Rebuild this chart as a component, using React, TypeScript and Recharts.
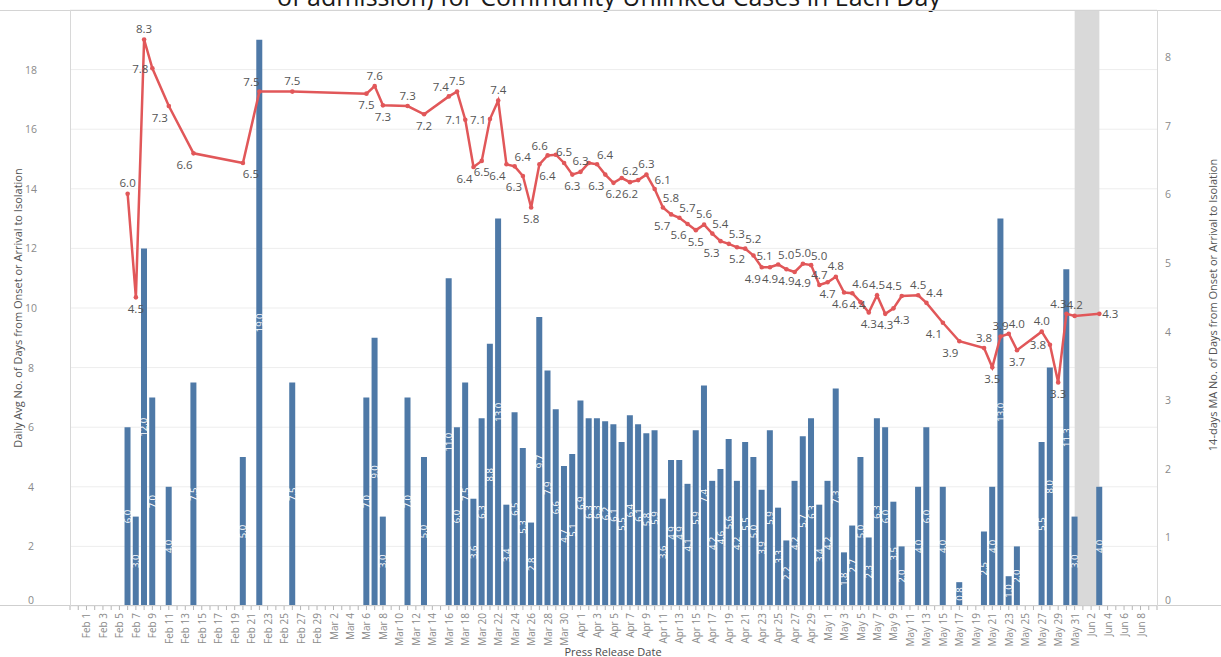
import React from "react";
import { Bar, CartesianGrid, ComposedChart, LabelList, Line, ReferenceArea, XAxis, YAxis } from "recharts";

// daily average (bars, left axis)
const barDates = [
  "Feb 6", "Feb 7", "Feb 8", "Feb 9", "Feb 11", "Feb 14", "Feb 20", "Feb 22", "Feb 26",
  "Mar 6", "Mar 7", "Mar 8", "Mar 11", "Mar 13", "Mar 16", "Mar 17", "Mar 18", "Mar 19", "Mar 20",
  "Mar 21", "Mar 22", "Mar 23", "Mar 24", "Mar 25", "Mar 26", "Mar 27", "Mar 28", "Mar 29", "Mar 30", "Mar 31",
  "Apr 1", "Apr 2", "Apr 3", "Apr 4", "Apr 5", "Apr 6", "Apr 7", "Apr 8", "Apr 9", "Apr 10",
  "Apr 11", "Apr 12", "Apr 13", "Apr 14", "Apr 15", "Apr 16", "Apr 17", "Apr 18", "Apr 19", "Apr 20",
  "Apr 21", "Apr 22", "Apr 23", "Apr 24", "Apr 25", "Apr 26", "Apr 27", "Apr 28", "Apr 29", "Apr 30",
  "May 1", "May 2", "May 3", "May 4", "May 5", "May 6", "May 7", "May 8", "May 9", "May 10",
  "May 12", "May 13", "May 15", "May 17", "May 20", "May 21", "May 22", "May 23", "May 24",
  "May 27", "May 28", "May 30", "May 31", "Jun 3",
];
const barValues = [
  6.0, 3.0, 12.0, 7.0, 4.0, 7.5, 5.0, 19.0, 7.5,
  7.0, 9.0, 3.0, 7.0, 5.0, 11.0, 6.0, 7.5, 3.6, 6.3,
  8.8, 13.0, 3.4, 6.5, 5.3, 2.8, 9.7, 7.9, 6.6, 4.7, 5.1,
  6.9, 6.3, 6.3, 6.2, 6.1, 5.5, 6.4, 6.1, 5.8, 5.9,
  3.6, 4.9, 4.9, 4.1, 5.9, 7.4, 4.2, 4.6, 5.6, 4.2,
  5.5, 5.0, 3.9, 5.9, 3.3, 2.2, 4.2, 5.7, 6.3, 3.4,
  4.2, 7.3, 1.8, 2.7, 5.0, 2.3, 6.3, 6.0, 3.5, 2.0,
  4.0, 6.0, 4.0, 0.8, 2.5, 4.0, 13.0, 1.0, 2.0,
  5.5, 8.0, 11.3, 3.0, 4.0,
];

// 14-day moving average (line, right axis)
const maDates = [
  "Feb 6", "Feb 7", "Feb 8", "Feb 9", "Feb 11", "Feb 14", "Feb 20", "Feb 22", "Feb 26",
  "Mar 6", "Mar 7", "Mar 8", "Mar 11", "Mar 13", "Mar 16", "Mar 17", "Mar 18", "Mar 19", "Mar 20",
  "Mar 21", "Mar 22", "Mar 23", "Mar 24", "Mar 25", "Mar 26", "Mar 27", "Mar 28", "Mar 29", "Mar 30", "Mar 31",
  "Apr 1", "Apr 2", "Apr 3", "Apr 4", "Apr 5", "Apr 6", "Apr 7", "Apr 8", "Apr 9", "Apr 10",
  "Apr 11", "Apr 12", "Apr 13", "Apr 14", "Apr 15", "Apr 16", "Apr 17", "Apr 18", "Apr 19", "Apr 20",
  "Apr 21", "Apr 22", "Apr 23", "Apr 24", "Apr 25", "Apr 26", "Apr 27", "Apr 28", "Apr 29", "Apr 30",
  "May 1", "May 2", "May 3", "May 4", "May 5", "May 6", "May 7", "May 8", "May 9", "May 10",
  "May 12", "May 13", "May 15", "May 17", "May 20", "May 21", "May 22", "May 23", "May 24",
  "May 27", "May 28", "May 29", "May 30", "May 31", "Jun 3",
];
const maValues = [
  6.01, 4.5, 8.26, 7.84, 7.29, 6.6, 6.46, 7.5, 7.5,
  7.47, 7.58, 7.3, 7.29, 7.17, 7.43, 7.5, 7.09, 6.4, 6.49,
  7.1, 7.37, 6.44, 6.41, 6.27, 5.81, 6.44, 6.57, 6.58, 6.46, 6.29,
  6.33, 6.46, 6.44, 6.29, 6.17, 6.24, 6.18, 6.21, 6.29, 6.08,
  5.81, 5.71, 5.66, 5.57, 5.48, 5.56, 5.43, 5.32, 5.28, 5.23,
  5.21, 5.11, 4.94, 4.94, 4.98, 4.91, 4.87, 4.99, 4.97, 4.68,
  4.72, 4.8, 4.57, 4.56, 4.43, 4.28, 4.53, 4.26, 4.34, 4.52,
  4.53, 4.42, 4.13, 3.86, 3.76, 3.48, 3.93, 3.97, 3.73,
  4.0, 3.81, 3.26, 4.26, 4.23, 4.26,
];
// where each MA label sits around its point ("" = label hidden)
const maLabelSide = [
  "T", "B", "T", "L", "BL", "BL", "BR", "TL", "T",
  "B", "T", "B", "T", "B", "TL", "T", "L", "BL", "B",
  "L", "T", "BL", "TR", "BL", "B", "BR", "TL", "", "T", "B",
  "T", "", "TR", "BL", "B", "", "B", "TL", "T", "TR",
  "TR", "BL", "TR", "BL", "B", "T", "TR", "BL", "TR", "B",
  "TR", "R", "BL", "B", "TR", "B", "BR", "T", "TR", "T",
  "B", "T", "Bl", "TR", "ML", "B", "T", "B", "BR", "TL",
  "T", "TR", "BL", "BL", "T", "B", "T", "TR", "B",
  "T", "L", "B", "TL", "T", "R",
];

const leftTicks = [0, 2, 4, 6, 8, 10, 12, 14, 16, 18];
const rightTicks = [0, 1, 2, 3, 4, 5, 6, 7, 8];
const months: [string, number][] = [["Jan", -31], ["Feb", 0], ["Mar", 29], ["Apr", 60], ["May", 90], ["Jun", 121]];

const toDay = (s: string) => {
  const [m, d] = s.split(" ");
  const start = months.find((e) => e[0] === m)![1];
  return start + Number(d) - 1;
};
const dayLabel = (n: number) => {
  let m = months[0];
  for (const e of months) if (n >= e[1]) m = e;
  return `${m[0]} ${n - m[1] + 1}`;
};

const firstDay = toDay("Jan 30");
const lastDay = toDay("Jun 10");
const dayTicks: number[] = [];
for (let d = firstDay; d <= lastDay; d++) dayTicks.push(d);

type Row = { day: number; avg: number | null; ma: number | null; side: string };
const byDay = new Map<number, Row>();
const rowFor = (day: number) => {
  if (!byDay.has(day)) byDay.set(day, { day, avg: null, ma: null, side: "" });
  return byDay.get(day)!;
};
barDates.forEach((d, i) => (rowFor(toDay(d)).avg = barValues[i]));
maDates.forEach((d, i) => {
  const r = rowFor(toDay(d));
  r.ma = maValues[i];
  r.side = maLabelSide[i];
});
const rows = [...byDay.values()].sort((a, b) => a.day - b.day);

const FONT = "'Open Sans', 'Noto Sans', sans-serif";
const sideOffset: Record<string, [number, number]> = {
  T: [0, -11], B: [0, 11], L: [-12, 0], R: [11, 0], ML: [-3, 2], Bl: [-4, 11],
  TL: [-8, -10], TR: [8, -10], BL: [-9, 11], BR: [8, 11],
};

function MaLabel(props: any) {
  const vb = props.viewBox || {};
  const x = props.x ?? vb.x;
  const y = props.y ?? vb.y;
  const { value, index } = props;
  if (value == null || x == null || y == null) return null;
  const row = props.payload?.day != null ? byDay.get(props.payload.day) : rows[index];
  if (!row || !row.side) return null;
  const [dx, dy] = sideOffset[row.side];
  return (
    <text x={x + dx} y={y + dy} textAnchor="middle" dominantBaseline="central" fontSize={11.5} fill="#555" fontFamily={FONT}>
      {Number(value).toFixed(1)}
    </text>
  );
}

function BarLabel(props: any) {
  const vb = props.viewBox || {};
  const x = props.x ?? vb.x;
  const y = props.y ?? vb.y;
  const width = props.width ?? vb.width;
  const height = props.height ?? vb.height;
  if (props.value == null || x == null) return null;
  const cx = x + width / 2;
  const cy = y + height / 2;
  return (
    <text transform={`translate(${cx},${cy}) rotate(-90)`} textAnchor="middle" dominantBaseline="central" fontSize={9.5} fill="#ffffff" fontFamily={FONT}>
      {Number(props.value).toFixed(1)}
    </text>
  );
}

function DayTick({ x, y, payload }: any) {
  const d = payload.value;
  if (d < 0 || d > 128 || d % 2 !== 0) return null;
  return (
    <text x={x} y={y} transform={`rotate(-90 ${x} ${y})`} textAnchor="end" dominantBaseline="central" fontSize={10} fill="#8a8a8a" fontFamily={FONT}>
      {dayLabel(d)}
    </text>
  );
}

const LeftTick = ({ y, payload }: any) => (
  <text x={31} y={payload.value === 0 ? y - 6 : y} textAnchor="middle" dominantBaseline="central" fontSize={10.5} fill="#8a8a8a" fontFamily={FONT}>
    {payload.value}
  </text>
);
const RightTick = ({ y, payload }: any) => (
  <text x={1168} y={payload.value === 0 ? y - 6 : y} textAnchor="middle" dominantBaseline="central" fontSize={10.5} fill="#8a8a8a" fontFamily={FONT}>
    {payload.value}
  </text>
);

export default function App() {
  return (
    <div style={{ position: "absolute", left: 0, top: 0, width: 1221, height: 657, background: "#fff", overflow: "hidden" }}>
      <ComposedChart width={1221} height={657} data={rows} margin={{ top: 10, right: 0, bottom: 0, left: 0 }}>
        <ReferenceArea x1={toDay("May 31")} x2={toDay("Jun 3")} yAxisId="left" fill="#d9d9d9" fillOpacity={1} stroke="none" ifOverflow="visible" />
        <CartesianGrid yAxisId="left" vertical={false} stroke="#ededed" />
        <XAxis
          dataKey="day"
          type="number"
          domain={[firstDay, lastDay]}
          ticks={dayTicks}
          interval={0}
          allowDataOverflow
          height={51}
          axisLine={false}
          tickLine={{ stroke: "#b5b5b5" }}
          tickSize={4}
          tickMargin={3}
          tick={<DayTick />}
        />
        <YAxis yAxisId="left" domain={[0, 20]} ticks={leftTicks} interval={0} width={70} axisLine={false} tickLine={false} tick={<LeftTick />} allowDataOverflow />
        <YAxis yAxisId="right" orientation="right" domain={[0, 8.69]} ticks={rightTicks} interval={0} width={64} axisLine={false} tickLine={false} tick={<RightTick />} allowDataOverflow />
        <Bar yAxisId="left" dataKey="avg" fill="#4e79a7" barSize={6} isAnimationActive={false}>
          <LabelList dataKey="avg" content={<BarLabel />} />
        </Bar>
        <Line
          yAxisId="right"
          dataKey="ma"
          stroke="#e15759"
          strokeWidth={2.5}
          connectNulls
          dot={{ r: 2.3, fill: "#e15759", stroke: "none" }}
          activeDot={false}
          isAnimationActive={false}
        >
          <LabelList dataKey="ma" content={<MaLabel />} />
        </Line>
      </ComposedChart>
      <svg width={1221} height={657} style={{ position: "absolute", left: 0, top: 0, pointerEvents: "none" }}>
        <text x={609} y={6} textAnchor="middle" fontSize={25} fill="#1a1a1a" fontFamily={FONT}>
          of admission) for Community Unlinked Cases in Each Day
        </text>
        <line x1={0} x2={1221} y1={10.5} y2={10.5} stroke="#d4d4d4" />
        <line x1={0} x2={1221} y1={605.5} y2={605.5} stroke="#cfcfcf" />
        <line x1={70.5} x2={70.5} y1={10} y2={606} stroke="#d8d8d8" />
        <line x1={1157.5} x2={1157.5} y1={10} y2={606} stroke="#d8d8d8" />
        <text transform="translate(17,308) rotate(-90)" textAnchor="middle" dominantBaseline="central" fontSize={11} fill="#555" fontFamily={FONT}>
          Daily Avg No. of Days from Onset or Arrival to Isolation
        </text>
        <text transform="translate(1212,305) rotate(-90)" textAnchor="middle" dominantBaseline="central" fontSize={11} fill="#555" fontFamily={FONT}>
          14-days MA No. of Days from Onset or Arrival to Isolation
        </text>
        <text x={613} y={651} textAnchor="middle" dominantBaseline="central" fontSize={11} fill="#4a4a4a" fontFamily={FONT}>
          Press Release Date
        </text>
      </svg>
    </div>
  );
}
